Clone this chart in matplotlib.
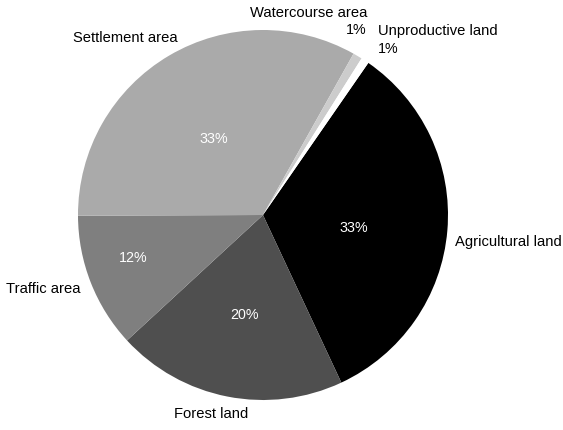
import matplotlib.pyplot as plt

categories = ["Agricultural land", "Forest land", "Traffic area",
              "Settlement area", "Watercourse area", "Unproductive land"]
shares = [33.4, 20.1, 11.8, 33.2, 0.8, 0.7]
colors = ["#000000", "#4f4f4f", "#7f7f7f", "#aaaaaa", "#cccccc", "#ffffff"]

plt.rcParams['font.family'] = ['Liberation Sans', 'DejaVu Sans']

# pixel geometry of the reference
W, H = 563, 430
cx, cy, r = 263, 215, 185


def px(x, y):
    return (x - cx) / r, (cy - y) / r


fig = plt.figure(figsize=(W / 100, H / 100), dpi=100)
ax = fig.add_axes([0, 0, 1, 1])
ax.pie(shares, colors=colors, startangle=55.3, counterclock=False,
       radius=1, wedgeprops=dict(linewidth=0))
ax.set_xlim(-cx / r, (W - cx) / r)
ax.set_ylim(-(H - cy) / r, cy / r)
ax.set_aspect('auto')
ax.axis('off')

# category labels
label_pos = [((455, 242), 'left'), ((174, 414), 'left'), ((81, 289), 'right'),
             ((125, 38), 'center'), ((367, 13), 'right'), ((378, 31), 'left')]
for name, ((x, y), ha) in zip(categories, label_pos):
    ax.text(*px(x, y), name, ha=ha, va='center', fontsize=10.6, color='black')

# percentages
pct_pos = [((354, 228), 'center', 'white'), ((245, 315), 'center', 'white'),
           ((133, 258), 'center', 'white'), ((214, 139), 'center', 'white'),
           ((367, 30), 'right', 'black'), ((378, 49), 'left', 'black')]
for v, ((x, y), ha, c) in zip(shares, pct_pos):
    ax.text(*px(x, y), f"{round(v)}%", ha=ha, va='center', fontsize=10.3, color=c)

fig.savefig("out.png", dpi=100)
